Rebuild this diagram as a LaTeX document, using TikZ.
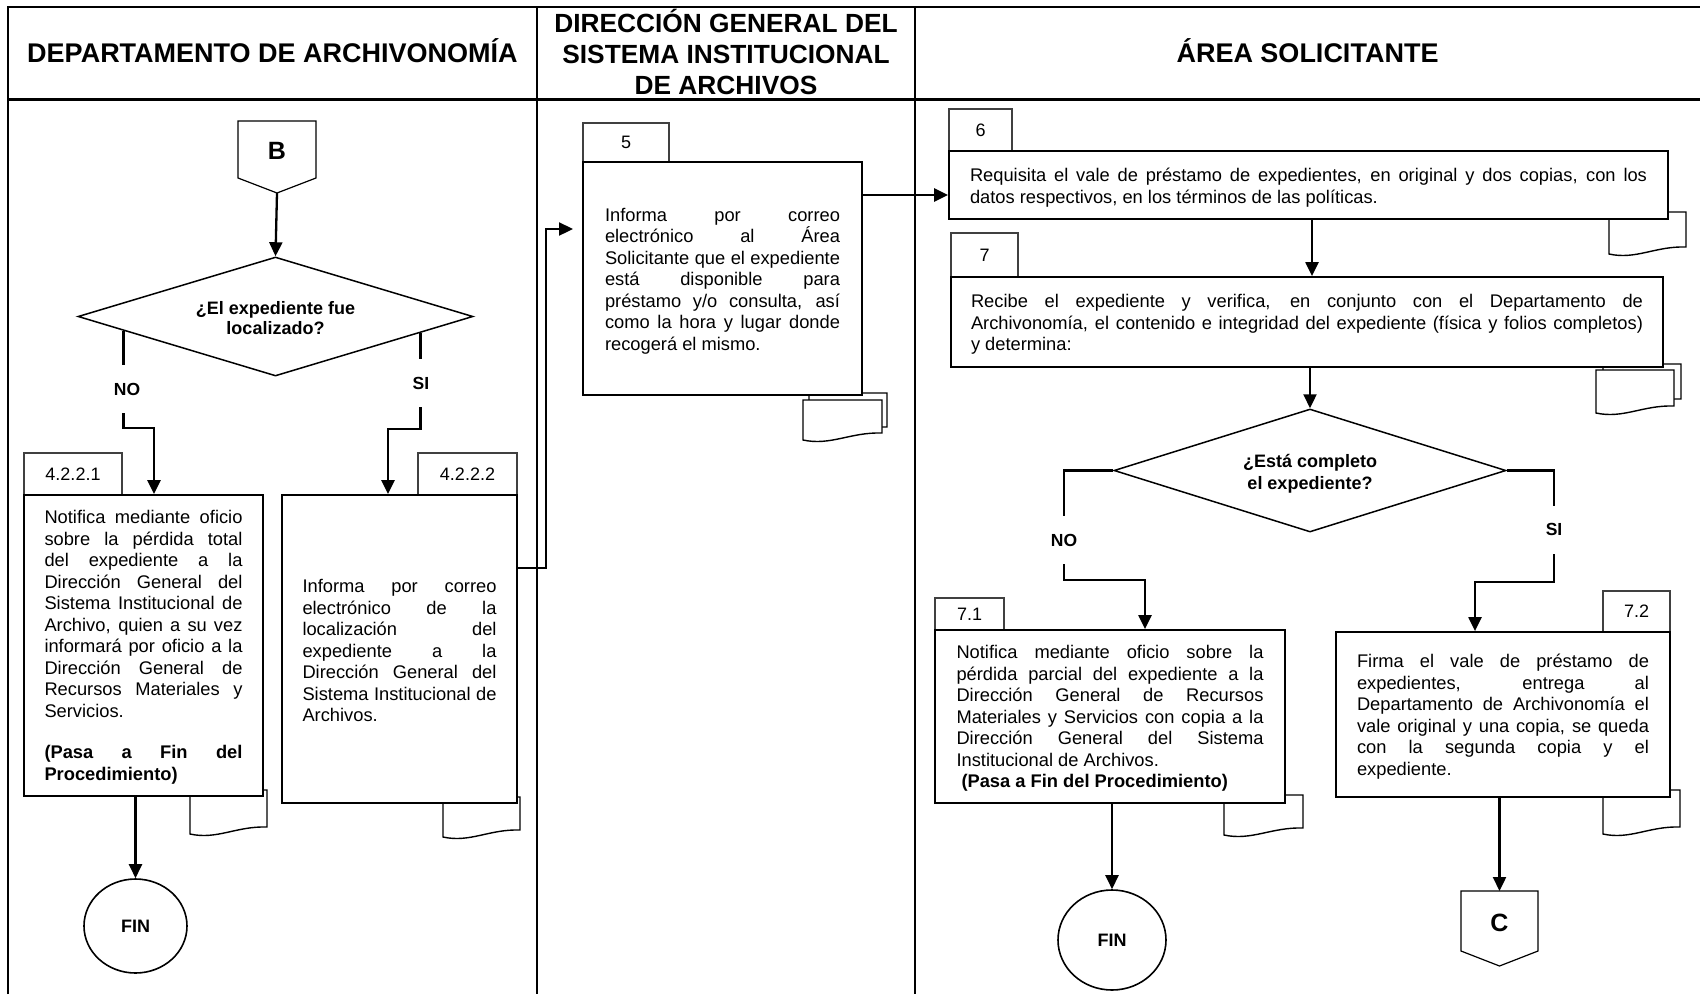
\documentclass[tikz,border=0pt]{standalone}
\usepackage{fontspec}
\setmainfont{Liberation Sans}
\usetikzlibrary{arrows.meta,shapes.geometric,calc}

% paragraph settings for the justified step texts
\tolerance=10000
\hbadness=10000
\hyphenpenalty=10000
\exhyphenpenalty=10000

% invisible strut that lowers a text block inside its box
\newcommand\toproom[1]{\rule{0pt}{#1}}

% document symbol: left x, top y, right x, lower-left y
\newcommand\docsym[4]{%
  \draw[docline] ({#1},{#2}) -- ({#3},{#2}) -- ({#3},{#4-7})
    .. controls ({#1+0.6*(#3-#1)},{#4-8}) and ({#1+0.35*(#3-#1)},{#4+6}) .. ({#1},{#4}) -- cycle;}

\begin{document}
\begin{tikzpicture}[x=1pt,y=-1pt,
  frame/.style={line width=2.5pt},
  procbox/.style={draw, line width=1.8pt, fill=white, inner sep=0pt, align=justify,
    font=\fontsize{18.3}{21.5}\selectfont},
  tabbox/.style={draw=black!75, line width=1.1pt, fill=white, inner sep=0pt,
    font=\fontsize{18}{21}\selectfont},
  conn/.style={line width=2.3pt, -{Triangle[length=14pt,width=13pt]}},
  decision/.style={diamond, draw, line width=1.5pt, inner sep=0pt, shape aspect=3.3,
    align=center},
  endnode/.style={ellipse, draw, line width=1.6pt, inner sep=0pt,
    font=\bfseries\fontsize{18}{20}\selectfont},
  branch/.style={fill=white, inner sep=0pt, minimum height=48pt, minimum width=30pt,
    font=\bfseries\fontsize{17.5}{20}\selectfont},
  lanehead/.style={font=\bfseries\fontsize{27}{30.8}\selectfont, align=center},
  offpage/.style={draw, line width=1.2pt, fill=white},
  docline/.style={draw, line width=1.4pt, fill=white}
]
\useasboundingbox (0,0) rectangle (1700,994);
\fill[white] (0,0) rectangle (1700,994);

% ---------- document symbols (behind the boxes) ----------
\docsym{190}{790}{267}{834}
\docsym{443}{797}{520}{837}
\docsym{809}{393}{887}{434}
\docsym{803}{400}{882}{440}
\docsym{1609}{212}{1686}{254}
\docsym{1603}{364}{1681}{406}
\docsym{1596}{370}{1674}{413}
\docsym{1224}{795}{1303}{835}
\docsym{1603}{790}{1680}{834}

% ---------- step number tabs ----------
\node[tabbox, minimum width=98pt, minimum height=42pt] (t421) at (73,474) {4.2.2.1};
\node[tabbox, minimum width=99pt, minimum height=42pt] (t422) at (467.5,474) {4.2.2.2};
\node[tabbox, minimum width=86pt, minimum height=39pt] (t5) at (626,142.5) {5};
\node[tabbox, minimum width=63pt, minimum height=42pt] (t6) at (980.5,130) {6};
\node[tabbox, minimum width=67pt, minimum height=44pt] (t7) at (984.5,255) {7};
\node[tabbox, minimum width=69pt, minimum height=32pt] (t71) at (969.5,614) {7.1};
\node[tabbox, minimum width=67pt, minimum height=41pt] (t72) at (1636.5,611.5) {7.2};

% ---------- process boxes ----------
\node[procbox, minimum width=239pt, minimum height=301pt, text width=198pt] (b421) at (143.5,645.5)
  {\toproom{16.5pt}Notifica mediante oficio\linebreak sobre la pérdida total\linebreak del expediente a la\linebreak
   Dirección General del\linebreak Sistema Institucional de\linebreak Archivo, quien a su vez\linebreak
   informará por oficio a la\linebreak Dirección General de\linebreak Recursos Materiales y\linebreak
   Servicios.\par\vskip 20pt
   \textbf{(Pasa a Fin del\linebreak Procedimiento)}};

\node[procbox, minimum width=235pt, minimum height=308pt, text width=194pt] (b422) at (399.5,649)
  {\toproom{16.5pt}Informa por correo\linebreak electrónico de la\linebreak localización del\linebreak
   expediente a la\linebreak Dirección General del\linebreak Sistema Institucional de\linebreak
   Archivos.};

\node[procbox, minimum width=279pt, minimum height=233pt, text width=235pt] (b5) at (722.5,278.5)
  {\toproom{18.5pt}Informa por correo\linebreak electrónico al Área\linebreak Solicitante que el expediente\linebreak
   está disponible para\linebreak préstamo y/o consulta, así\linebreak como la hora y lugar donde\linebreak
   recogerá el mismo.};

\node[procbox, minimum width=719pt, minimum height=68pt, text width=677pt] (b6) at (1308.5,185)
  {\toproom{18.5pt}Requisita el vale de préstamo de expedientes, en original y dos copias, con los\linebreak
   datos respectivos, en los términos de las políticas.};

\node[procbox, minimum width=712pt, minimum height=90pt, text width=672pt] (b7) at (1307,322)
  {\toproom{18.5pt}Recibe el expediente y verifica, en conjunto con el Departamento de\linebreak
   Archivonomía, el contenido e integridad del expediente (física y folios completos)\linebreak
   y determina:};

\node[procbox, minimum width=350pt, minimum height=173pt, text width=307pt] (b71) at (1110,716.5)
  {\toproom{17.5pt}Notifica mediante oficio sobre la\linebreak pérdida parcial del expediente a la\linebreak
   Dirección General de Recursos\linebreak Materiales y Servicios con copia a la\linebreak
   Dirección General del Sistema\linebreak Institucional de Archivos.\par
   \hspace*{5pt}\textbf{(Pasa a Fin del Procedimiento)}};

\node[procbox, minimum width=334pt, minimum height=165pt, text width=292pt] (b72) at (1503,714.5)
  {\toproom{17.5pt}Firma el vale de préstamo de\linebreak expedientes, entrega al\linebreak
   Departamento de Archivonomía el\linebreak vale original y una copia, se queda\linebreak
   con la segunda copia y el\linebreak expediente.};

% ---------- decisions ----------
\node[decision, minimum width=395pt, minimum height=119pt,
      font=\bfseries\fontsize{18}{20}\selectfont] (d1) at (275.5,316.5)
  {\toproom{17pt}¿El expediente fue\\localizado?};
\node[decision, minimum width=392pt, minimum height=123pt,
      font=\bfseries\fontsize{18}{21.5}\selectfont] (d2) at (1310,470.5)
  {\toproom{19.5pt}¿Está completo\\el expediente?};

% ---------- terminators and off-page connectors ----------
\node[endnode, minimum width=103pt, minimum height=94pt] (fin1) at (135.5,926) {FIN};
\node[endnode, minimum width=108pt, minimum height=100pt] (fin2) at (1112,940) {FIN};

\draw[offpage] (238,121) -- (316,121) -- (316,178) -- (277,193) -- (238,178) -- cycle;
\node[font=\bfseries\fontsize{25}{28}\selectfont] (B) at (277,151) {B};
\coordinate (Btip) at (277,193);

\draw[offpage] (1461,891) -- (1538,891) -- (1538,951) -- (1499.5,966) -- (1461,951) -- cycle;
\node[font=\bfseries\fontsize{25}{28}\selectfont] (C) at (1499.5,923) {C};
\coordinate (Ctop) at (1499.5,891);

% ---------- connectors ----------
\draw[conn] (Btip) -- (d1.north);

\coordinate (n1s) at ($(d1.west)!0.233!(d1.south)$);
\coordinate (n1a) at (124,428);
\coordinate (n1b) at (154,428);
\draw[conn] (n1s) -- (n1s |- n1a) -- (n1b) -- (n1b |- b421.north);
\node[branch] (no1) at (127,389) {NO};

\coordinate (s1s) at ($(d1.east)!0.268!(d1.south)$);
\coordinate (s1a) at (420,429);
\coordinate (s1b) at (388,429);
\draw[conn] (s1s) -- (s1s |- s1a) -- (s1b) -- (s1b |- b422.north);
\node[branch] (si1) at (421,383) {SI};

\draw[conn] (b421.south -| fin1.north) -- (fin1.north);

\coordinate (e1) at (546,568);
\coordinate (e2) at (573,229);
\draw[conn] (b422.east |- e1) -- (e1) |- (e2);

\coordinate (e3) at (900,195);
\draw[conn] (b5.east |- e3) -- (b6.west |- e3);

\coordinate (e4) at (1312,240);
\draw[conn] (b6.south -| e4) -- (b7.north -| e4);

\draw[conn] (b7.south -| d2.north) -- (d2.north);

\coordinate (n2a) at (1064,580);
\coordinate (n2b) at (1145,580);
\draw[conn] (d2.west) -| (n2a) -- (n2b) -- (n2b |- b71.north);
\node[branch] (no2) at (1064,540) {NO};

\coordinate (s2a) at (1554,582);
\coordinate (s2b) at (1475,582);
\draw[conn] (d2.east) -| (s2a) -- (s2b) -- (s2b |- b72.north);
\node[branch] (si2) at (1554,529.5) {SI};

\draw[conn] (b71.south -| fin2.north) -- (fin2.north);
\draw[conn] (b72.south -| Ctop) -- (Ctop);

% ---------- swimlane frame and headings ----------
\draw[frame] (8,994) -- (8,7) -- (1700,7);
\draw[frame] (8,99.5) -- (1700,99.5);
\draw[frame] (537,7) -- (537,994);
\draw[frame] (915,7) -- (915,994);

\node[lanehead] (h1) at (272.5,50.5) {DEPARTAMENTO DE ARCHIVONOMÍA};
\node[lanehead, font=\bfseries\fontsize{26.3}{30.8}\selectfont] (h2) at (726,52)
  {DIRECCIÓN GENERAL DEL\\SISTEMA INSTITUCIONAL\\DE ARCHIVOS};
\node[lanehead] (h3) at (1307.5,50.5) {ÁREA SOLICITANTE};
\end{tikzpicture}
\end{document}
